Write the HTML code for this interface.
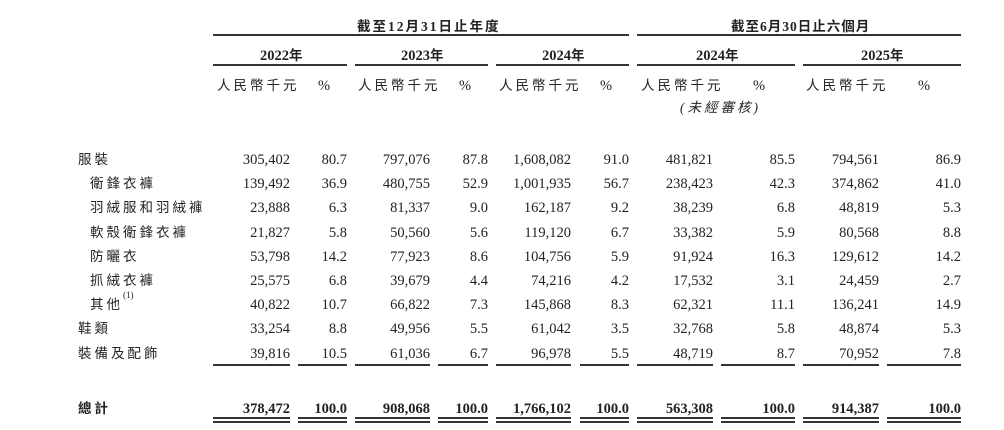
<!DOCTYPE html>
<html><head><meta charset="utf-8"><style>
body{margin:0;width:1004px;height:430px;background:#fff;position:relative;overflow:hidden;color:#222;}
.t{position:absolute;white-space:nowrap;font-family:"Liberation Serif","Noto Serif CJK TC","Noto Serif CJK SC",serif;font-size:14.5px;line-height:16px;}
.c{font-family:"Liberation Serif","Noto Sans CJK TC",sans-serif;letter-spacing:3px;font-size:13.5px;}
.r{text-align:right;}
.b{font-weight:bold;}
.l{position:absolute;background:#333;height:2px;}
sup{font-size:9px;letter-spacing:0;line-height:0;position:relative;top:-2px;vertical-align:top;}
</style></head><body>
<div class="t c b" style="left:357px;top:19px;letter-spacing:2px;">截至12月31日止年度</div>
<div class="t c b" style="left:731px;top:19px;letter-spacing:1px;">截至6月30日止六個月</div>
<div class="l" style="left:213px;width:416px;top:34px;"></div>
<div class="l" style="left:637px;width:324px;top:34px;"></div>
<div class="t b" style="left:260px;top:48px;">2022<span class="c" style="letter-spacing:0">年</span></div>
<div class="t b" style="left:401px;top:48px;">2023<span class="c" style="letter-spacing:0">年</span></div>
<div class="t b" style="left:542px;top:48px;">2024<span class="c" style="letter-spacing:0">年</span></div>
<div class="t b" style="left:696px;top:48px;">2024<span class="c" style="letter-spacing:0">年</span></div>
<div class="t b" style="left:861px;top:48px;">2025<span class="c" style="letter-spacing:0">年</span></div>
<div class="l" style="left:213px;width:134px;top:64px;"></div>
<div class="l" style="left:355px;width:133px;top:64px;"></div>
<div class="l" style="left:496px;width:133px;top:64px;"></div>
<div class="l" style="left:637px;width:158px;top:64px;"></div>
<div class="l" style="left:803px;width:158px;top:64px;"></div>
<div class="t c" style="left:217px;top:78px;">人民幣千元</div><div class="t" style="left:318px;top:78px;">%</div>
<div class="t c" style="left:358px;top:78px;">人民幣千元</div><div class="t" style="left:459px;top:78px;">%</div>
<div class="t c" style="left:499px;top:78px;">人民幣千元</div><div class="t" style="left:600px;top:78px;">%</div>
<div class="t c" style="left:641px;top:78px;">人民幣千元</div><div class="t" style="left:753px;top:78px;">%</div>
<div class="t c" style="left:806px;top:78px;">人民幣千元</div><div class="t" style="left:918px;top:78px;">%</div>
<div class="t c" style="left:680px;top:100px;font-style:italic;">(未經審核)</div>
<div id="rows"></div>
<script>
var R=[290,347,430,488,571,629,713,795,879,961];
var rows=[
["服裝",78,"305,402","80.7","797,076","87.8","1,608,082","91.0","481,821","85.5","794,561","86.9"],
["衛鋒衣褲",90,"139,492","36.9","480,755","52.9","1,001,935","56.7","238,423","42.3","374,862","41.0"],
["羽絨服和羽絨褲",90,"23,888","6.3","81,337","9.0","162,187","9.2","38,239","6.8","48,819","5.3"],
["軟殼衛鋒衣褲",90,"21,827","5.8","50,560","5.6","119,120","6.7","33,382","5.9","80,568","8.8"],
["防曬衣",90,"53,798","14.2","77,923","8.6","104,756","5.9","91,924","16.3","129,612","14.2"],
["抓絨衣褲",90,"25,575","6.8","39,679","4.4","74,216","4.2","17,532","3.1","24,459","2.7"],
["其他<sup>(1)</sup>",90,"40,822","10.7","66,822","7.3","145,868","8.3","62,321","11.1","136,241","14.9"],
["鞋類",78,"33,254","8.8","49,956","5.5","61,042","3.5","32,768","5.8","48,874","5.3"],
["裝備及配飾",78,"39,816","10.5","61,036","6.7","96,978","5.5","48,719","8.7","70,952","7.8"]];
var h="";
var L=[213,298,355,438,496,580,637,721,803,887];
rows.forEach(function(r,i){var y=152+i*24.2;
h+='<div class="t c" style="left:'+r[1]+'px;top:'+y+'px;">'+r[0]+'</div>';
for(var k=0;k<10;k++)h+='<div class="t r" style="right:'+(1004-R[k])+'px;top:'+y+'px;">'+r[k+2]+'</div>';});
var tot=["378,472","100.0","908,068","100.0","1,766,102","100.0","563,308","100.0","914,387","100.0"];
h+='<div class="t c b" style="left:78px;top:401px;">總計</div>';
for(var k=0;k<10;k++){h+='<div class="t r b" style="right:'+(1004-R[k])+'px;top:401px;">'+tot[k]+'</div>';
h+='<div class="l" style="left:'+L[k]+'px;width:'+(R[k]-L[k])+'px;top:364px;height:1.5px"></div>';
h+='<div class="l" style="left:'+L[k]+'px;width:'+(R[k]-L[k])+'px;top:417px;"></div>';
h+='<div class="l" style="left:'+L[k]+'px;width:'+(R[k]-L[k])+'px;top:421px;"></div>';}
document.getElementById("rows").innerHTML=h;
</script>
</body></html>
